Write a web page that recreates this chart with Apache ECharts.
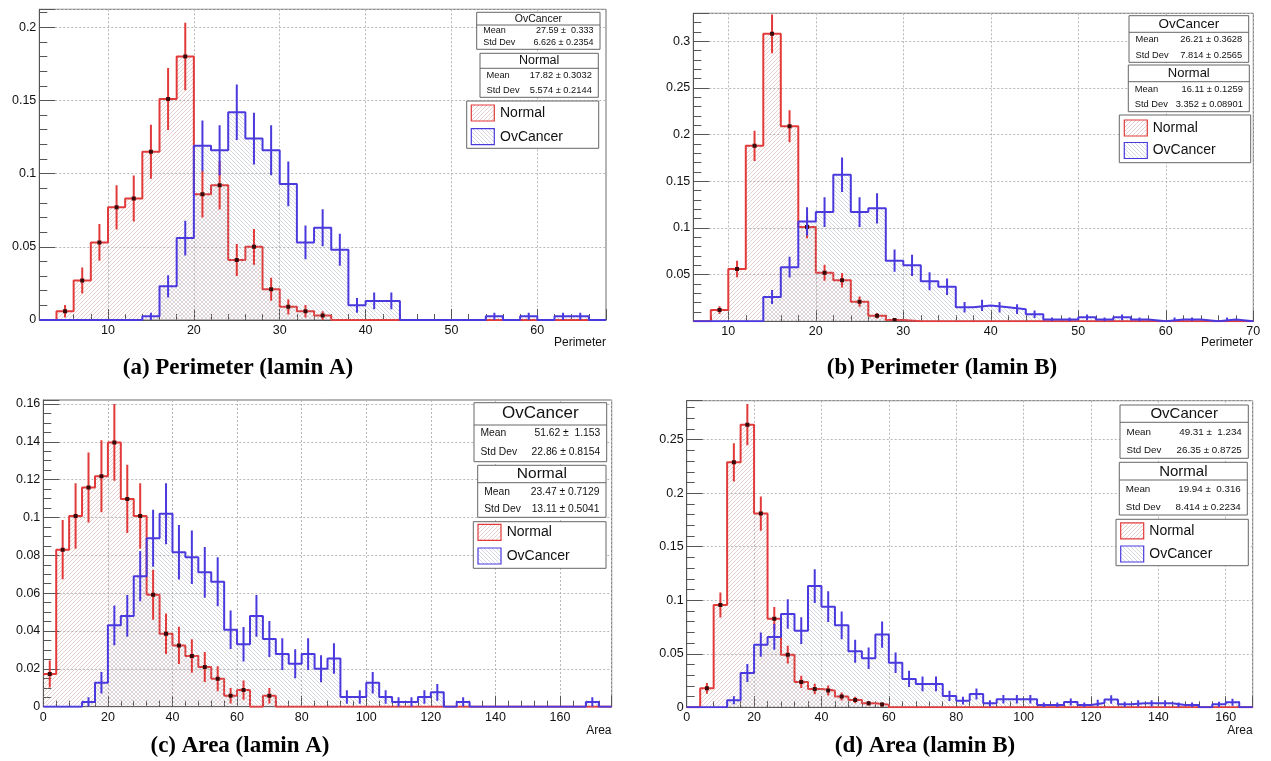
<!DOCTYPE html>
<html><head><meta charset="utf-8">
<script src="https://cdn.jsdelivr.net/npm/echarts@6/dist/echarts.min.js"></script>
<style>html,body{margin:0;padding:0;background:#fff}#c{width:1271px;height:761px}</style>
</head><body><div id="c"></div>
<script>
// ================= DATA =================
// (a) Perimeter (lamin A): bins of width 2 starting at 2
const perimA_x0 = 2, perimA_binWidth = 2;
const perimA_normal = [0, 0.006, 0.027, 0.053, 0.077, 0.083, 0.115, 0.151, 0.180, 0.086, 0.092, 0.041, 0.050, 0.021, 0.009, 0.006, 0.003,
  0, 0, 0, 0, 0, 0, 0, 0, 0, 0, 0, 0, 0, 0, 0, 0];
const perimA_cancer = [0, 0, 0, 0, 0, 0, 0.0025, 0.023, 0.056, 0.119, 0.116, 0.142, 0.124, 0.116, 0.093, 0.053, 0.063, 0.048, 0.010, 0.013, 0.013,
  0, 0, 0, 0, 0, 0.0025, 0, 0.0025, 0, 0.0025, 0.0025, 0];
const perimA_entries = [338, 396]; // [Normal, OvCancer]
const perimA_statsCancer = ['27.59 \u00b1  0.333', '6.626 \u00b1 0.2354'];
const perimA_statsNormal = ['17.82 \u00b1 0.3032', '5.574 \u00b1 0.2144'];

// (b) Perimeter (lamin B): bins of width 2 starting at 6
const perimB_x0 = 6, perimB_binWidth = 2;
const perimB_normal = [0, 0.012, 0.056, 0.188, 0.308, 0.209, 0.101, 0.052, 0.044, 0.021, 0.006, 0.0014,
  0, 0, 0, 0, 0, 0, 0, 0, 0, 0, 0, 0, 0, 0, 0, 0, 0, 0, 0, 0];
const perimB_cancer = [0, 0, 0, 0, 0.026, 0.058, 0.107, 0.117, 0.157, 0.117, 0.121, 0.065, 0.060, 0.043, 0.037, 0.015, 0.017, 0.015, 0.013, 0.0075,
  0.002, 0.002, 0.0043, 0.002, 0.0043, 0.002, 0, 0.002, 0.002, 0, 0.002, 0];
const perimB_entries = [709, 464];
const perimB_statsCancer = ['26.21 \u00b1 0.3628', '7.814 \u00b1 0.2565'];
const perimB_statsNormal = ['16.11 \u00b1 0.1259', '3.352 \u00b1 0.08901'];

// (c) Area (lamin A): bins of width 4 starting at 0
const areaA_x0 = 0, areaA_binWidth = 4;
const areaA_normal = [0.0173, 0.083, 0.1008, 0.1158, 0.1218, 0.1397, 0.1098, 0.1008, 0.0592, 0.0386, 0.0324, 0.0268, 0.021, 0.0148, 0.0058, 0.0088, 0, 0.0058,
  0, 0, 0, 0, 0, 0, 0, 0, 0, 0, 0, 0, 0, 0, 0, 0, 0, 0, 0, 0, 0, 0, 0, 0, 0, 0];
const areaA_cancer = [0, 0, 0, 0.0025, 0.0127, 0.043, 0.048, 0.069, 0.089, 0.102, 0.0816, 0.079, 0.071, 0.066, 0.0407, 0.033, 0.048, 0.0358, 0.0278, 0.0227,
  0.0278, 0.020, 0.0255, 0.0051, 0.0051, 0.0127, 0.0051, 0.0025, 0.0025, 0.0051, 0.0076, 0, 0.0025,
  0, 0, 0, 0, 0, 0, 0, 0, 0, 0.0025, 0];
const areaA_entries = [338, 393];
const areaA_statsCancer = ['51.62 \u00b1  1.153', '22.86 \u00b1 0.8154'];
const areaA_statsNormal = ['23.47 \u00b1 0.7129', '13.11 \u00b1 0.5041'];

// (d) Area (lamin B): bins of width 4 starting at 0
const areaB_x0 = 0, areaB_binWidth = 4;
const areaB_normal = [0, 0.0177, 0.0956, 0.2288, 0.264, 0.181, 0.0828, 0.0492, 0.0237, 0.0171, 0.0156, 0.010, 0.0068, 0.0037, 0.0025,
  0, 0, 0, 0, 0, 0, 0, 0, 0, 0, 0, 0, 0, 0, 0, 0, 0, 0, 0, 0, 0, 0, 0, 0, 0, 0, 0];
const areaB_cancer = [0, 0, 0, 0.0066, 0.032, 0.0585, 0.0657, 0.0872, 0.0716, 0.1133, 0.094, 0.0766, 0.0523, 0.0458, 0.0679, 0.0417, 0.0265, 0.0218, 0.0218, 0.0106,
  0.0062, 0.0124, 0.0037, 0.0075, 0.0075, 0.0075, 0.0022, 0.0022, 0.005, 0.0022, 0.004, 0.0072, 0.0028, 0.0037, 0.0037, 0.0037, 0.0022, 0.0022, 0, 0.0028, 0.0047, 0];
const areaB_entries = [709, 456];
const areaB_statsCancer = ['49.31 \u00b1  1.234', '26.35 \u00b1 0.8725'];
const areaB_statsNormal = ['19.94 \u00b1  0.316', '8.414 \u00b1 0.2234'];

const seriesNames = ['Normal', 'OvCancer'];
const statLabels = ['Mean', 'Std Dev'];
const axisTitles = ['Perimeter', 'Perimeter', 'Area', 'Area'];
const captions = ['(a) Perimeter (lamin A)', '(b) Perimeter (lamin B)', '(c) Area (lamin A)', '(d) Area (lamin B)'];

// ================= STYLE / LAYOUT =================
const RED = '#e23a3a', BLUE = '#4a3ade', MARK = '#3a0909';
const FONT = '"Liberation Sans", Arial, Helvetica, sans-serif';
const SERIF = '"Liberation Serif", "Times New Roman", serif';

function hatch(color, dir) {
  const s = 4, c = document.createElement('canvas');
  c.width = s; c.height = s;
  const g = c.getContext('2d');
  g.strokeStyle = color; g.lineWidth = 0.8;
  g.beginPath();
  if (dir > 0) {
    g.moveTo(0, s); g.lineTo(s, 0);
    g.moveTo(-1, 1); g.lineTo(1, -1);
    g.moveTo(s - 1, s + 1); g.lineTo(s + 1, s - 1);
  } else {
    g.moveTo(0, 0); g.lineTo(s, s);
    g.moveTo(-1, s - 1); g.lineTo(1, s + 1);
    g.moveTo(s - 1, -1); g.lineTo(s + 1, 1);
  }
  g.stroke();
  return c;
}
const hatchRed = { image: hatch('rgba(200,145,145,0.55)', 1), repeat: 'repeat' };
const hatchBlue = { image: hatch('rgba(150,158,178,0.5)', -1), repeat: 'repeat' };

const panels = [
  { d: [perimA_x0, perimA_binWidth, perimA_normal, perimA_cancer, perimA_entries, perimA_statsCancer, perimA_statsNormal],
    grid: { left: 39.3, top: 9.3, width: 566.7, height: 310.7 },
    x: [2, 68, 10], y: [0.2123, 0.05, 5], showX0: false, showXMax: false, showY0: true,
    sc: { x: 476.7, y: 12.3, w: 123.3, h: 37, div: 25, ty: 18.7, r: [30.8, 42.8], tf: 10.5, rf: 9 },
    sn: { x: 480, y: 53.3, w: 118.3, h: 44, div: 68.3, ty: 60.8, r: [75.5, 90], tf: 12.5, rf: 9.3 },
    lg: { x: 466.7, y: 101, w: 132, h: 47.3, sx: 471.3, r: [113, 136.7], tx: 500 },
    title: [606, 343], cap: [238, 368] },
  { d: [perimB_x0, perimB_binWidth, perimB_normal, perimB_cancer, perimB_entries, perimB_statsCancer, perimB_statsNormal],
    grid: { left: 693.3, top: 13.3, width: 560, height: 308 },
    x: [6, 70, 10], y: [0.33, 0.05, 5], showX0: false, showXMax: true, showY0: false,
    sc: { x: 1129, y: 15.7, w: 119.7, h: 46.6, div: 32.3, ty: 24, r: [39.7, 55], tf: 13.5, rf: 9.3 },
    sn: { x: 1128.3, y: 65, w: 121, h: 46.7, div: 81.7, ty: 73.7, r: [89, 104.7], tf: 13, rf: 9.3 },
    lg: { x: 1119.3, y: 115, w: 131.4, h: 47.7, sx: 1124.3, r: [128, 150.5], tx: 1152.7 },
    title: [1253, 343], cap: [942, 368] },
  { d: [areaA_x0, areaA_binWidth, areaA_normal, areaA_cancer, areaA_entries, areaA_statsCancer, areaA_statsNormal],
    grid: { left: 43.3, top: 400, width: 568.4, height: 306.7 },
    x: [0, 176, 20], y: [0.1621, 0.02, 4], showX0: true, showXMax: false, showY0: true,
    sc: { x: 474, y: 402.7, w: 132.7, h: 59, div: 425, ty: 413.7, r: [432.7, 452], tf: 17, rf: 10.3 },
    sn: { x: 477.7, y: 465.3, w: 128.3, h: 52, div: 482.7, ty: 473.7, r: [491.7, 509.3], tf: 15.5, rf: 10.3 },
    lg: { x: 473.3, y: 521.7, w: 132.7, h: 46.6, sx: 478, r: [532.3, 556], tx: 506.7 },
    title: [611.5, 731], cap: [240, 746] },
  { d: [areaB_x0, areaB_binWidth, areaB_normal, areaB_cancer, areaB_entries, areaB_statsCancer, areaB_statsNormal],
    grid: { left: 686.7, top: 400.7, width: 566, height: 306.6 },
    x: [0, 168, 20], y: [0.2864, 0.05, 5], showX0: true, showXMax: false, showY0: true,
    sc: { x: 1120, y: 405, w: 128.3, h: 53.3, div: 422.3, ty: 414, r: [432, 450], tf: 15, rf: 9.8 },
    sn: { x: 1119.3, y: 462.3, w: 128, h: 52.7, div: 480, ty: 471.7, r: [489.3, 507], tf: 15, rf: 9.8 },
    lg: { x: 1116, y: 519.3, w: 132.3, h: 46.4, sx: 1120.7, r: [530.8, 554], tx: 1149.3 },
    title: [1252.7, 731], cap: [925, 746] }
];

// ================= BUILD =================
function stepData(x0, w, vals) {
  const out = [];
  vals.forEach((v, i) => { out.push([x0 + i * w, v]); out.push([x0 + (i + 1) * w, v]); });
  return out;
}
// Poisson error of a unit-normalised bin: sqrt(content / entries)
function errData(x0, w, vals, n) {
  const out = [];
  vals.forEach((v, i) => { if (v > 0) out.push([x0 + (i + 0.5) * w, v, Math.sqrt(v / n)]); });
  return out;
}
function errRender(color, marker) {
  return function (params, api) {
    const x = api.value(0), v = api.value(1), e = api.value(2);
    const lo = api.coord([x, Math.max(0, v - e)]), hi = api.coord([x, v + e]);
    const kids = [{ type: 'line', shape: { x1: lo[0], y1: lo[1], x2: hi[0], y2: hi[1] }, style: { stroke: color, lineWidth: 2 } }];
    if (marker) {
      const c = api.coord([x, v]);
      kids.push({ type: 'rect', shape: { x: c[0] - 2, y: c[1] - 2, width: 4, height: 4 }, style: { fill: MARK } });
    }
    return { type: 'group', children: kids };
  };
}

const grids = [], xAxes = [], yAxes = [], series = [], graphics = [];
const tickColor = '#555';
panels.forEach((p, i) => {
  const [x0, bw, normal, cancer, entries, statsC, statsN] = p.d;
  grids.push(Object.assign({ show: true, borderColor: '#6a6a6a', borderWidth: 1, backgroundColor: 'transparent', containLabel: false }, p.grid));
  xAxes.push({
    gridIndex: i, type: 'value', min: p.x[0], max: p.x[1], minInterval: p.x[2], maxInterval: p.x[2],
    axisLine: { show: true, onZero: false, lineStyle: { color: '#555', width: 1 } },
    axisTick: { show: true, inside: true, length: 11, lineStyle: { color: tickColor } },
    minorTick: { show: true, splitNumber: 5, length: 6, lineStyle: { color: tickColor } },
    splitLine: { show: true, lineStyle: { color: '#b8b8b8', type: [2, 2], width: 1 } },
    axisLabel: { color: '#111', fontSize: 12.5, fontFamily: FONT, margin: 4, showMinLabel: p.showX0, showMaxLabel: p.showXMax, hideOverlap: false }
  });
  yAxes.push({
    gridIndex: i, type: 'value', min: 0, max: p.y[0], interval: p.y[1],
    axisLine: { show: true, onZero: false, lineStyle: { color: '#555', width: 1 } },
    axisTick: { show: true, inside: true, length: 16, lineStyle: { color: tickColor } },
    minorTick: { show: true, splitNumber: p.y[2], length: 8, lineStyle: { color: tickColor } },
    splitLine: { show: true, lineStyle: { color: '#b8b8b8', type: [2, 2], width: 1 } },
    axisLabel: { color: '#111', fontSize: 12.5, fontFamily: FONT, margin: 3, showMinLabel: p.showY0, showMaxLabel: false, hideOverlap: false }
  });
  series.push({
    type: 'line', name: seriesNames[0], xAxisIndex: i, yAxisIndex: i, data: stepData(x0, bw, normal),
    symbol: 'none', lineStyle: { color: RED, width: 2 }, areaStyle: { color: hatchRed, opacity: 1 }, z: 2, silent: true
  });
  series.push({
    type: 'line', name: seriesNames[1], xAxisIndex: i, yAxisIndex: i, data: stepData(x0, bw, cancer),
    symbol: 'none', lineStyle: { color: BLUE, width: 2 }, areaStyle: { color: hatchBlue, opacity: 1 }, z: 3, silent: true
  });
  series.push({
    type: 'custom', xAxisIndex: i, yAxisIndex: i, data: errData(x0, bw, normal, entries[0]),
    renderItem: errRender(RED, true), clip: true, z: 4, silent: true
  });
  series.push({
    type: 'custom', xAxisIndex: i, yAxisIndex: i, data: errData(x0, bw, cancer, entries[1]),
    renderItem: errRender(BLUE, false), clip: true, z: 4, silent: true
  });

  // stat boxes
  function statBox(b, title, vals) {
    graphics.push({ type: 'rect', shape: { x: b.x, y: b.y, width: b.w, height: b.h }, style: { fill: '#fff', stroke: '#666', lineWidth: 1 }, z: 10 });
    graphics.push({ type: 'line', shape: { x1: b.x, y1: b.div, x2: b.x + b.w, y2: b.div }, style: { stroke: '#666', lineWidth: 1 }, z: 11 });
    graphics.push({ type: 'text', x: b.x + b.w / 2, y: b.ty, style: { text: title, fill: '#111', font: b.tf + 'px ' + FONT, align: 'center', verticalAlign: 'middle' }, z: 12 });
    vals.forEach((v, k) => {
      graphics.push({ type: 'text', x: b.x + 6.5, y: b.r[k], style: { text: statLabels[k], fill: '#111', font: b.rf + 'px ' + FONT, align: 'left', verticalAlign: 'middle' }, z: 12 });
      graphics.push({ type: 'text', x: b.x + b.w - 6.5, y: b.r[k], style: { text: v, fill: '#111', font: b.rf + 'px ' + FONT, align: 'right', verticalAlign: 'middle' }, z: 12 });
    });
  }
  statBox(p.sc, seriesNames[1], statsC);
  statBox(p.sn, seriesNames[0], statsN);

  // legend
  const L = p.lg;
  graphics.push({ type: 'rect', shape: { x: L.x, y: L.y, width: L.w, height: L.h }, style: { fill: '#fff', stroke: '#666', lineWidth: 1 }, z: 10 });
  [[RED, hatchRed], [BLUE, hatchBlue]].forEach((c, k) => {
    graphics.push({ type: 'rect', shape: { x: L.sx, y: L.r[k] - 8, width: 23, height: 16 }, style: { fill: c[1], stroke: c[0], lineWidth: 1.2 }, z: 11 });
    graphics.push({ type: 'text', x: L.tx, y: L.r[k], style: { text: seriesNames[k], fill: '#111', font: '14px ' + FONT, align: 'left', verticalAlign: 'middle' }, z: 12 });
  });

  // axis title & caption
  graphics.push({ type: 'text', x: p.title[0], y: p.title[1], style: { text: axisTitles[i], fill: '#111', font: '12px ' + FONT, align: 'right', verticalAlign: 'middle' }, z: 12 });
  graphics.push({ type: 'text', x: p.cap[0], y: p.cap[1], style: { text: captions[i], fill: '#000', font: 'bold 23px ' + SERIF, align: 'center', verticalAlign: 'middle' }, z: 12 });
});

const chart = echarts.init(document.getElementById('c'), null, { renderer: 'canvas', width: 1271, height: 761 });
chart.setOption({
  animation: false,
  backgroundColor: '#fff',
  grid: grids, xAxis: xAxes, yAxis: yAxes, series: series,
  graphic: { elements: graphics }
});
</script>
</body></html>
